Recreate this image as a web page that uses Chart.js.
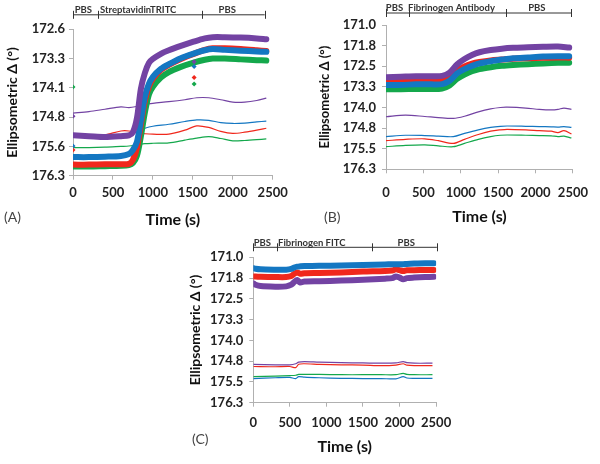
<!DOCTYPE html>
<html><head><meta charset="utf-8">
<script src="https://cdn.jsdelivr.net/npm/chart.js@4/dist/chart.umd.min.js"></script>
<style>
html,body{margin:0;padding:0;background:#fff;}
#wrap{position:relative;width:600px;height:464px;overflow:hidden;font-family:Lato,"Open Sans",sans-serif;}
.pane{position:absolute;}
.tag{position:absolute;font-size:14px;color:#444;font-family:Lato,sans-serif;}
</style></head><body>
<div id="wrap">
 <div class="pane" style="left:0;top:0;width:300px;height:230px"><canvas id="cA" width="300" height="230"></canvas></div>
 <div class="pane" style="left:300px;top:0;width:300px;height:230px"><canvas id="cB" width="300" height="230"></canvas></div>
 <div class="pane" style="left:180px;top:230px;width:280px;height:234px"><canvas id="cC" width="280" height="234"></canvas></div>
 <div class="tag" style="left:4px;top:208px">(A)</div>
 <div class="tag" style="left:324px;top:208px">(B)</div>
 <div class="tag" style="left:192px;top:430px">(C)</div>
</div>
<script>
// ---------- Panel A data ----------
const yTicksA = ['172.6','173.3','174.1','174.8','175.6','176.3'];
const phaseBoundsA = [0, 310, 1610, 2400];
const phaseLabelsA = ['PBS', 'StreptavidinTRITC', 'PBS'];
const phaseLabelTimesA = [130, 816, 1930];
const timeThickA = [0,200,400,600,700,750,800,850,900,950,1000,1100,1200,1350,1500,1650,1750,1900,2100,2300,2420];
const purpleThickA = [175.28,175.30,175.32,175.30,175.28,175.20,174.85,174.10,173.70,173.45,173.35,173.22,173.13,173.02,172.92,172.83,172.80,172.80,172.81,172.83,172.85];
const blueThickA   = [175.83,175.83,175.82,175.80,175.75,175.65,175.45,174.90,174.30,173.98,173.80,173.60,173.48,173.33,173.22,173.13,173.10,173.12,173.14,173.16,173.17];
const redThickA    = [176.02,176.02,176.01,176.01,176.00,175.90,175.60,175.00,174.40,174.05,173.85,173.63,173.50,173.35,173.23,173.12,173.08,173.08,173.10,173.13,173.15];
const greenThickA  = [176.07,176.07,176.06,176.05,176.03,175.98,175.80,175.30,174.70,174.25,174.05,173.82,173.68,173.55,173.45,173.37,173.34,173.34,173.36,173.38,173.39];
const timeThinA = [0,200,400,600,700,800,900,1000,1200,1400,1550,1700,1850,2000,2150,2300,2420];
const purpleThinA = [174.72,174.68,174.62,174.56,174.58,174.55,174.50,174.47,174.43,174.38,174.33,174.33,174.38,174.44,174.44,174.40,174.34];
const blueThinA   = [175.30,175.30,175.30,175.28,175.26,175.18,175.10,175.05,175.00,174.93,174.89,174.90,174.96,174.98,174.97,174.94,174.92];
const redThinA    = [175.30,175.30,175.27,175.17,175.17,175.22,175.24,175.25,175.25,175.15,175.04,175.08,175.18,175.23,175.20,175.15,175.10];
const greenThinA  = [175.59,175.59,175.58,175.56,175.55,175.52,175.49,175.48,175.47,175.40,175.35,175.31,175.36,175.42,175.41,175.39,175.37];
const outlierTimesA = [0, 1516];
const purpleOutA = [174.80, 173.42];
const blueOutA   = [175.55, 173.54];
const redOutA    = [175.65, 173.82];
const greenOutA  = [174.06, 173.98];

// ---------- Panel B data ----------
const yTicksB = ['171.0','171.8','172.5','173.3','174.0','174.8','175.5','176.3'];
const phaseBoundsB = [0, 305, 1600, 2480];
const phaseLabelsB = ['PBS', 'Fibrinogen Antibody', 'PBS'];
const phaseLabelTimesB = [114, 876, 2018];
const timeThickB = [0,200,400,600,750,850,950,1050,1150,1250,1400,1550,1700,1900,2100,2300,2450];
const purpleThickB = [172.92,172.90,172.88,172.88,172.87,172.75,172.45,172.25,172.10,172.00,171.92,171.87,171.84,171.82,171.80,171.79,171.83];
const blueThickB   = [173.20,173.20,173.18,173.18,173.17,173.05,172.78,172.62,172.50,172.41,172.33,172.27,172.22,172.19,172.16,172.15,172.15];
const redThickB    = [173.08,173.06,173.02,173.00,172.98,172.90,172.68,172.52,172.42,172.36,172.30,172.27,172.24,172.22,172.20,172.19,172.20];
const greenThickB  = [173.36,173.36,173.35,173.35,173.33,173.22,172.98,172.82,172.70,172.62,172.55,172.50,172.47,172.44,172.41,172.39,172.39];
const timeThinB = [0,260,520,700,900,1050,1235,1400,1530,1620,1870,2050,2210,2300,2380,2480];
const purpleThinB = [174.37,174.31,174.36,174.40,174.43,174.35,174.19,174.08,174.03,174.02,174.05,174.10,174.12,174.10,174.05,174.10];
const blueThinB   = [175.10,175.05,175.06,175.08,175.10,174.98,174.85,174.76,174.72,174.71,174.72,174.73,174.74,174.75,174.73,174.76];
const redThinB    = [175.25,175.20,175.18,175.25,175.35,175.20,175.02,174.90,174.85,174.83,174.85,174.88,174.90,174.95,174.88,175.00];
const greenThinB  = [175.47,175.42,175.40,175.44,175.47,175.35,175.20,175.10,175.05,175.04,175.05,175.06,175.07,175.10,175.08,175.15];

// ---------- Panel C data ----------
const yTicksC = ['171.0','171.8','172.5','173.3','174.0','174.8','175.5','176.3'];
const phaseBoundsC = [0, 320, 1630, 2510];
const phaseLabelsC = ['PBS', 'Fibrinogen FITC', 'PBS'];
const phaseLabelTimesC = [124, 800, 2092];
const timeThickC = [0,30,100,300,450,520,560,600,640,700,900,1200,1500,1800,1900,1950,2000,2050,2100,2200,2350,2470];
const blueThickC   = [171.40,171.42,171.44,171.45,171.45,171.42,171.37,171.34,171.33,171.32,171.31,171.30,171.28,171.26,171.25,171.25,171.25,171.25,171.24,171.23,171.22,171.22];
const redThickC    = [171.70,171.70,171.71,171.72,171.72,171.68,171.60,171.55,171.60,171.58,171.57,171.55,171.52,171.50,171.48,171.44,171.47,171.50,171.47,171.47,171.46,171.46];
const purpleThickC = [171.95,172.00,172.05,172.07,172.06,172.00,171.90,171.83,171.92,171.88,171.87,171.85,171.82,171.78,171.76,171.70,171.74,171.80,171.76,171.74,171.72,171.71];
const timeThinC = [0,300,500,580,620,700,900,1200,1500,1750,1950,2050,2100,2200,2450];
const purpleThinC = [174.90,174.92,174.92,174.88,174.82,174.80,174.82,174.84,174.85,174.86,174.85,174.80,174.84,174.86,174.86];
const redThinC    = [174.98,174.99,174.98,175.02,174.90,174.88,174.90,174.92,174.93,174.95,174.93,174.88,174.93,174.95,174.95];
const greenThinC  = [175.35,175.33,175.31,175.30,175.27,175.27,175.27,175.28,175.28,175.28,175.28,175.23,175.27,175.28,175.28];
const blueThinC   = [175.42,175.39,175.38,175.42,175.35,175.37,175.39,175.41,175.42,175.42,175.43,175.35,175.40,175.41,175.41];

// ---------- styling ----------
const PURPLE = '#7343A3', BLUE = '#1477C2', RED = '#F0281C', GREEN = '#14A84C';
const FONT = 'Lato, "Open Sans", sans-serif';

const pts = (ts, vs) => ts.map((t, i) => ({x: t, y: vs[i]}));
const thick = (ts, vs, c) => ({data: pts(ts, vs), borderColor: c, backgroundColor: c, borderWidth: 6, pointRadius: 0, tension: 0.3, borderCapStyle: 'round'});
const thin = (ts, vs, c) => ({data: pts(ts, vs), borderColor: c, backgroundColor: c, borderWidth: 1.2, pointRadius: 0, tension: 0.3});
const dots = (ts, vs, c) => ({data: pts(ts, vs), borderColor: c, backgroundColor: c, showLine: false, pointRadius: 2.5, pointStyle: 'rectRot', borderWidth: 0});

const phasePlugin = {
  id: 'phases',
  afterDraw(chart, args, o) {
    const {ctx, chartArea} = chart;
    const xs = chart.scales.x;
    const y = chartArea.top - o.lift;
    ctx.save();
    ctx.strokeStyle = '#333'; ctx.lineWidth = 1;
    ctx.beginPath();
    ctx.moveTo(xs.getPixelForValue(o.bounds[0]), y);
    ctx.lineTo(xs.getPixelForValue(o.bounds[o.bounds.length - 1]), y);
    o.bounds.forEach(b => { const px = Math.round(xs.getPixelForValue(b)) + 0.5; ctx.moveTo(px, y - 4); ctx.lineTo(px, y + 4); });
    ctx.stroke();
    ctx.fillStyle = '#333';
    ctx.font = 'bold 9.5px ' + FONT;
    ctx.textAlign = 'center'; ctx.textBaseline = 'bottom';
    o.labels.forEach((l, i) => ctx.fillText(l, xs.getPixelForValue(o.labelTimes[i]), y));
    ctx.restore();
  }
};

function makeChart(id, p) {
  const yMin = parseFloat(p.yTicks[0]), yMax = parseFloat(p.yTicks[p.yTicks.length - 1]);
  return new Chart(document.getElementById(id), {
    type: 'line',
    data: {datasets: p.datasets},
    options: {
      responsive: false, animation: false, events: [],
      layout: {padding: p.pad},
      plugins: {legend: {display: false}, tooltip: {enabled: false},
        phases: {bounds: p.bounds, labels: p.labels, labelTimes: p.labelTimes, lift: p.lift}},
      scales: {
        x: {type: 'linear', min: 0, max: 2500,
          afterFit: s => { s.height = p.xH; },
          ticks: {stepSize: 500, padding: p.xTickPad, color: '#222', font: {family: FONT, size: 13, weight: 'bold'}, maxRotation: 0, callback: v => String(v)},
          grid: {drawOnChartArea: false, tickLength: 4, color: '#b0b0b0'},
          border: {color: '#b0b0b0'},
          title: {display: true, text: 'Time (s)', color: '#111', font: {family: FONT, size: 16, weight: 'bold'}, padding: {top: 0, bottom: p.xTitlePad}}
        },
        y: {type: 'linear', reverse: true, min: yMin, max: yMax,
          afterFit: s => { s.width = p.yW; },
          afterBuildTicks: s => { s.ticks = p.yTicks.map((l, i) => ({value: yMin + i * (yMax - yMin) / (p.yTicks.length - 1)})); },
          ticks: {autoSkip: false, padding: p.yTickPad, color: '#222', font: {family: FONT, size: 13, weight: 'bold'}, callback: (v, i) => p.yTicks[i]},
          grid: {drawOnChartArea: false, tickLength: 4, color: '#b0b0b0'},
          border: {color: '#b0b0b0'},
          title: {display: true, text: 'Ellipsometric Δ (°)', color: '#111', font: {family: FONT, size: p.yTitleSize, weight: 'bold'}, padding: {top: p.yTitlePad, bottom: 0}}
        }
      }
    },
    plugins: [phasePlugin]
  });
}

makeChart('cA', {
  yTicks: yTicksA, bounds: phaseBoundsA, labels: phaseLabelsA, labelTimes: phaseLabelTimesA, lift: 14.5,
  pad: {left: 0, top: 29.3, right: 27.3, bottom: 0}, xH: 54.3, yW: 73, xTickPad: 5.5, xTitlePad: 0.4, yTickPad: 4, yTitleSize: 14, yTitlePad: 3.6,
  datasets: [
    dots(outlierTimesA, purpleOutA, PURPLE), dots(outlierTimesA, blueOutA, BLUE), dots(outlierTimesA, redOutA, RED), dots(outlierTimesA, greenOutA, GREEN),
    thick(timeThickA, purpleThickA, PURPLE), thick(timeThickA, blueThickA, BLUE), thick(timeThickA, redThickA, RED), thick(timeThickA, greenThickA, GREEN),
    thin(timeThinA, purpleThinA, PURPLE), thin(timeThinA, blueThinA, BLUE), thin(timeThinA, redThinA, RED), thin(timeThinA, greenThinA, GREEN)
  ]
});

makeChart('cB', {
  yTicks: yTicksB, bounds: phaseBoundsB, labels: phaseLabelsB, labelTimes: phaseLabelTimesB, lift: 12,
  pad: {left: 13, top: 25, right: 17, bottom: 0}, xH: 60.7, yW: 73, xTickPad: 12, xTitlePad: 3.4, yTickPad: 6, yTitleSize: 13, yTitlePad: 4.2,
  datasets: [
    thick(timeThickB, purpleThickB, PURPLE), thick(timeThickB, blueThickB, BLUE), thick(timeThickB, redThickB, RED), thick(timeThickB, greenThickB, GREEN),
    thin(timeThinB, purpleThinB, PURPLE), thin(timeThinB, blueThinB, BLUE), thin(timeThinB, redThinB, RED), thin(timeThinB, greenThinB, GREEN)
  ]
});

makeChart('cC', {
  yTicks: yTicksC, bounds: phaseBoundsC, labels: phaseLabelsC, labelTimes: phaseLabelTimesC, lift: 10,
  pad: {left: 3, top: 27.3, right: 21.7, bottom: 0}, xH: 61.3, yW: 70.3, xTickPad: 8.8, xTitlePad: 7.4, yTickPad: 6, yTitleSize: 14, yTitlePad: 3.6,
  datasets: [
    thick(timeThickC, blueThickC, BLUE), thick(timeThickC, redThickC, RED), thick(timeThickC, purpleThickC, PURPLE),
    thin(timeThinC, purpleThinC, PURPLE), thin(timeThinC, redThinC, RED), thin(timeThinC, greenThinC, GREEN), thin(timeThinC, blueThinC, BLUE)
  ]
});
</script>
</body></html>
